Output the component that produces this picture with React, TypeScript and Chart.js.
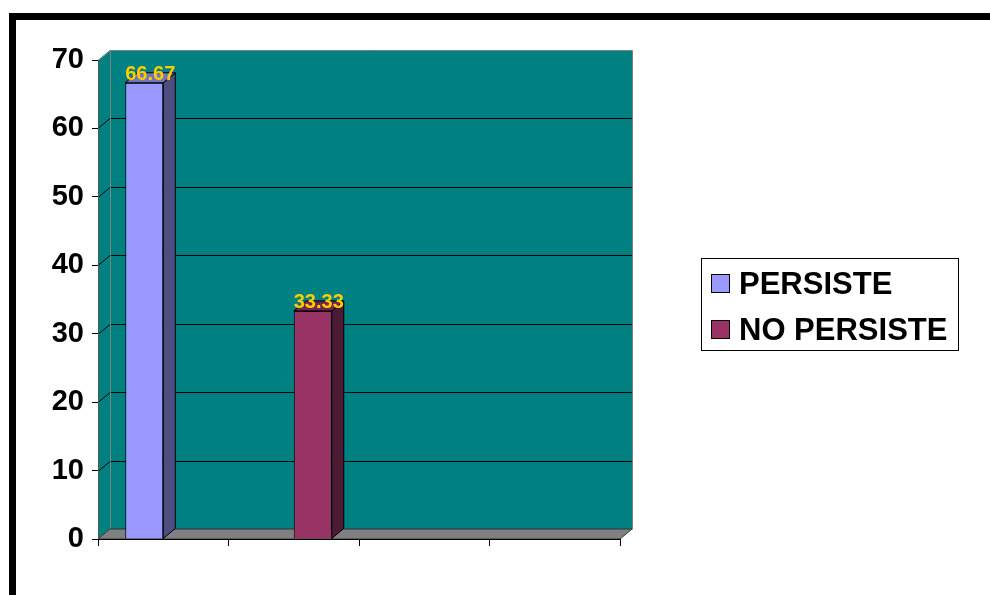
import React, { useEffect, useRef } from "react";
import { Chart, registerables } from "chart.js";

Chart.register(...registerables);

const categories = ["", "", "", ""];
const persisteValues = [66.67, null, null, null];
const noPersisteValues = [null, 33.33, null, null];
const seriesNames = ["PERSISTE", "NO PERSISTE"];
const seriesColors = ["#9999FF", "#993366"];
const sideColors = ["#4D4D80", "#4D1A33"];
const topColors = ["#7373BF", "#73264D"];
const yMin = 0;
const yMax = 70;
const yStep = 10;

const DX = 12;
const DY = -10;
const FONT = "'Liberation Sans', Arial, Helvetica, sans-serif";

const threeD = {
  id: "threeD",
  beforeDraw(chart: any) {
    const { ctx, chartArea } = chart;
    const { left, right, top, bottom } = chartArea;
    const yScale = chart.scales.y;
    ctx.save();
    // back wall
    ctx.fillStyle = "#008080";
    ctx.fillRect(left + DX, top + DY, right - left, bottom - top);
    // side wall
    ctx.beginPath();
    ctx.moveTo(left, top);
    ctx.lineTo(left + DX, top + DY);
    ctx.lineTo(left + DX, bottom + DY);
    ctx.lineTo(left, bottom);
    ctx.closePath();
    ctx.fill();
    // gridlines
    ctx.strokeStyle = "#000000";
    ctx.lineWidth = 1;
    for (let v = yMin + yStep; v < yMax; v += yStep) {
      const y = Math.round(yScale.getPixelForValue(v)) + 0.5;
      ctx.beginPath();
      ctx.moveTo(left, y);
      ctx.lineTo(left + DX, y + DY);
      ctx.lineTo(right + DX, y + DY);
      ctx.stroke();
    }
    // wall outline
    ctx.strokeStyle = "#808080";
    ctx.beginPath();
    ctx.moveTo(left + 0.5, top + 0.5);
    ctx.lineTo(left + DX + 0.5, top + DY + 0.5);
    ctx.lineTo(right + DX + 0.5, top + DY + 0.5);
    ctx.lineTo(right + DX + 0.5, bottom + DY + 0.5);
    ctx.moveTo(left + DX + 0.5, top + DY + 0.5);
    ctx.lineTo(left + DX + 0.5, bottom + DY + 0.5);
    ctx.stroke();
    // floor
    ctx.fillStyle = "#808080";
    ctx.strokeStyle = "#333333";
    ctx.beginPath();
    ctx.moveTo(left, bottom);
    ctx.lineTo(left + DX, bottom + DY);
    ctx.lineTo(right + DX, bottom + DY);
    ctx.lineTo(right, bottom);
    ctx.closePath();
    ctx.fill();
    ctx.stroke();
    // front y axis line
    ctx.strokeStyle = "#555555";
    ctx.beginPath();
    ctx.moveTo(left + 0.5, top);
    ctx.lineTo(left + 0.5, bottom);
    ctx.stroke();
    ctx.restore();
  },
  afterDatasetsDraw(chart: any) {
    const { ctx } = chart;
    ctx.save();
    ctx.lineWidth = 1;
    ctx.strokeStyle = "#000000";
    const labels: { x: number; y: number; text: string }[] = [];
    chart.data.datasets.forEach((ds: any, i: number) => {
      const meta = chart.getDatasetMeta(i);
      meta.data.forEach((bar: any, j: number) => {
        const v = ds.data[j];
        if (v === null || v === undefined) return;
        const l = bar.x - bar.width / 2;
        const r = bar.x + bar.width / 2;
        const t = bar.y;
        const b = bar.base;
        // side face
        ctx.fillStyle = sideColors[i];
        ctx.beginPath();
        ctx.moveTo(r, t);
        ctx.lineTo(r + DX, t + DY);
        ctx.lineTo(r + DX, b + DY);
        ctx.lineTo(r, b);
        ctx.closePath();
        ctx.fill();
        ctx.stroke();
        // top face
        ctx.fillStyle = topColors[i];
        ctx.beginPath();
        ctx.moveTo(l, t);
        ctx.lineTo(l + DX, t + DY);
        ctx.lineTo(r + DX, t + DY);
        ctx.lineTo(r, t);
        ctx.closePath();
        ctx.fill();
        ctx.stroke();
        labels.push({ x: bar.x + DX / 2, y: t - 3, text: Number(v).toFixed(2) });
      });
    });
    ctx.fillStyle = "#FFCC00";
    ctx.font = `bold 20px ${FONT}`;
    ctx.textAlign = "center";
    ctx.textBaseline = "alphabetic";
    labels.forEach((lb) => ctx.fillText(lb.text, lb.x, lb.y));
    ctx.restore();
  },
  afterDraw(chart: any) {
    const { ctx } = chart;
    ctx.save();
    // legend box
    const bx = 701.5, by = 258.5, bw = 257, bh = 92;
    ctx.fillStyle = "#FFFFFF";
    ctx.fillRect(bx, by, bw, bh);
    ctx.strokeStyle = "#000000";
    ctx.lineWidth = 1;
    ctx.strokeRect(bx, by, bw, bh);
    const rows = [284, 330];
    ctx.font = `bold 31px ${FONT}`;
    ctx.textAlign = "left";
    ctx.textBaseline = "middle";
    seriesNames.forEach((name, i) => {
      const cy = rows[i];
      ctx.fillStyle = seriesColors[i];
      ctx.fillRect(711.5, cy - 9.5, 18, 18);
      ctx.strokeRect(711.5, cy - 9.5, 18, 18);
      ctx.fillStyle = "#000000";
      ctx.fillText(name, 739, cy + 1);
    });
    ctx.restore();
  },
};

export default function App() {
  const ref = useRef<HTMLCanvasElement | null>(null);
  useEffect(() => {
    if (!ref.current) return;
    const chart = new Chart(ref.current, {
      type: "bar",
      data: {
        labels: categories,
        datasets: [
          {
            label: seriesNames[0],
            data: persisteValues,
            backgroundColor: seriesColors[0],
            borderColor: "#000000",
            borderWidth: 1,
            categoryPercentage: 0.5824,
            barPercentage: 1,
          },
          {
            label: seriesNames[1],
            data: noPersisteValues,
            backgroundColor: seriesColors[1],
            borderColor: "#000000",
            borderWidth: 1,
            categoryPercentage: 0.5824,
            barPercentage: 1,
          },
        ],
      },
      options: {
        responsive: false,
        animation: false,
        devicePixelRatio: 1,
        layout: { padding: { left: 0, top: 60, right: 370, bottom: 0 } },
        plugins: {
          legend: { display: false },
          tooltip: { enabled: false },
          title: { display: false },
        },
        scales: {
          x: {
            grid: {
              offset: true,
              drawOnChartArea: false,
              drawTicks: true,
              tickLength: 7,
              color: "#000000",
            },
            border: { display: true, color: "#000000", width: 1 },
            ticks: { display: true, font: { size: 1 }, color: "transparent" },
            afterFit: (scale: any) => {
              scale.height = 56;
            },
          },
          y: {
            min: yMin,
            max: yMax,
            grid: {
              drawOnChartArea: false,
              drawTicks: true,
              tickLength: 6,
              color: "#000000",
            },
            border: { display: false },
            ticks: {
              stepSize: yStep,
              padding: 8,
              color: "#000000",
              font: { family: FONT, size: 29, weight: "bold" },
            },
            afterFit: (scale: any) => {
              scale.width = 98;
            },
          },
        },
      },
      plugins: [threeD],
    });
    return () => chart.destroy();
  }, []);
  return (
    <div style={{ position: "fixed", left: 0, top: 0, width: 990, height: 595, background: "#FFFFFF", overflow: "hidden" }}>
      <canvas ref={ref} width={990} height={595} style={{ position: "absolute", left: 0, top: 0, width: 990, height: 595 }} />
      <div
        style={{
          position: "absolute",
          left: 9,
          top: 13,
          width: 1000,
          height: 600,
          borderTop: "7px solid #000000",
          borderLeft: "7px solid #000000",
          boxSizing: "border-box",
          pointerEvents: "none",
        }}
      />
    </div>
  );
}
